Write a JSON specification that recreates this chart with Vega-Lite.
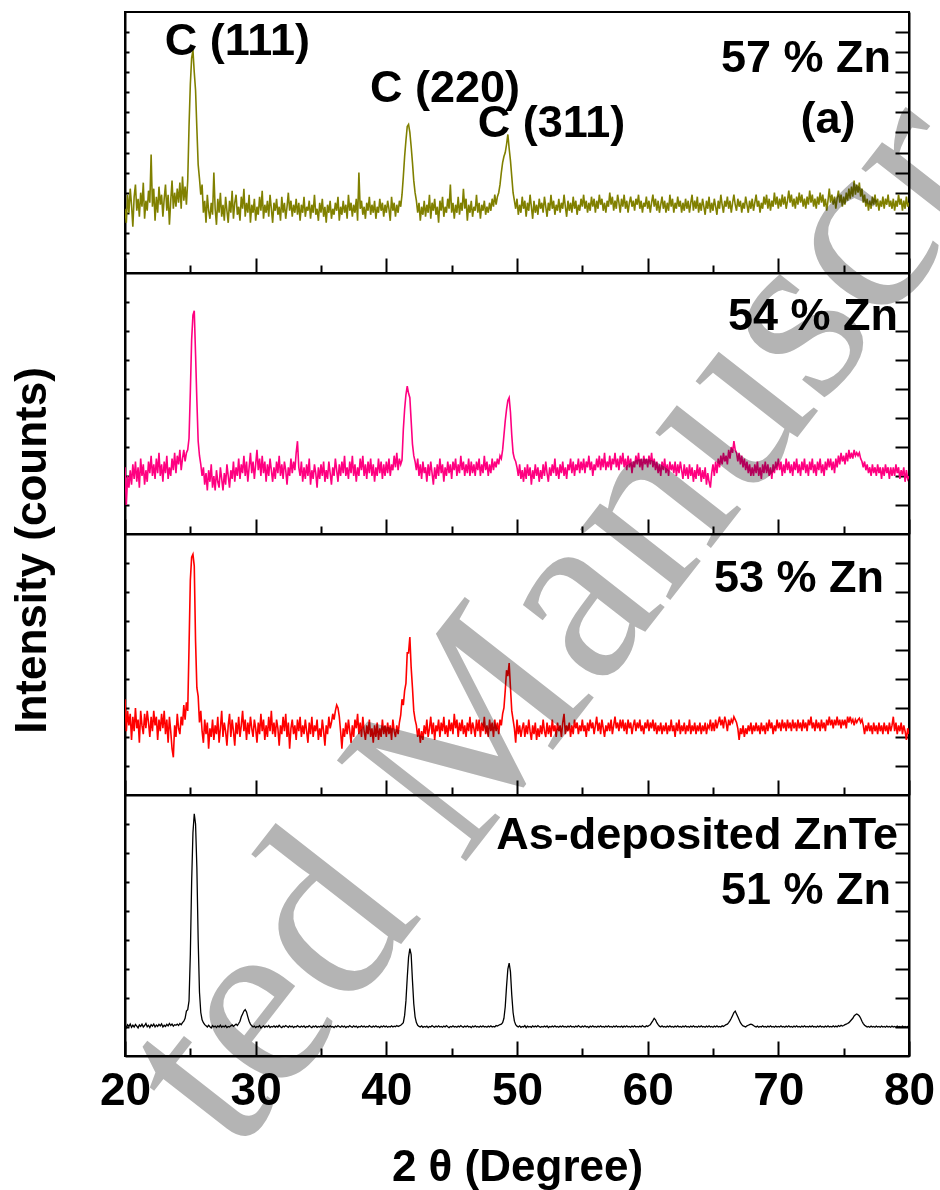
{
"$schema": "https://vega.github.io/schema/vega-lite/v6.json",
"background": "white",
"padding": {"left": 9, "top": 11, "right": 0, "bottom": 0},
"spacing": 0,
"bounds": "flush",
"config": {
  "view": {"stroke": "#000", "strokeWidth": 2},
  "axis": {"grid": false, "domainColor": "#000", "domainWidth": 2, "tickColor": "#000", "tickWidth": 2, "labelFont": "Liberation Sans", "labelFontWeight": "bold", "labelFontSize": 46, "labelColor": "#000", "titleFont": "Liberation Sans", "titleFontWeight": "bold", "titleFontSize": 44, "titleColor": "#000"},
  "text": {"font": "Liberation Sans", "fontWeight": "bold", "fontSize": 45, "color": "#000"},
  "concat": {"spacing": 0}
},
"data": {"values": [
{"x":20.0,"a":3.2,"b":2.3,"c":3.3,"d":1.05},{"x":20.1,"a":2.5,"b":1.0,"c":2.2,"d":0.98},{"x":20.2,"a":3.9,"b":2.0,"c":2.9,"d":1.08},{"x":20.3,"a":3.0,"b":1.6,"c":2.4,"d":1.02},{"x":20.4,"a":4.2,"b":2.2,"c":2.8,"d":1.1},{"x":20.5,"a":3.4,"b":1.7,"c":1.9,"d":0.99},{"x":20.6,"a":2.3,"b":2.4,"c":2.7,"d":1.06},{"x":20.7,"a":3.8,"b":1.9,"c":2.2,"d":1.0},{"x":20.8,"a":4.4,"b":2.5,"c":3.0,"d":1.09},{"x":20.9,"a":3.1,"b":1.8,"c":2.3,"d":1.03},
{"x":21.0,"a":3.7,"b":2.3,"c":2.6,"d":0.97},{"x":21.1,"a":2.8,"b":1.6,"c":1.8,"d":1.07},{"x":21.2,"a":4.0,"b":2.6,"c":2.9,"d":1.02},{"x":21.3,"a":3.3,"b":2.0,"c":2.4,"d":1.1},{"x":21.4,"a":4.5,"b":2.4,"c":2.1,"d":1.0},{"x":21.5,"a":2.7,"b":1.7,"c":2.8,"d":1.05},{"x":21.6,"a":3.6,"b":2.2,"c":2.3,"d":1.12},{"x":21.7,"a":3.1,"b":1.8,"c":2.9,"d":1.01},{"x":21.8,"a":4.1,"b":2.5,"c":2.5,"d":1.06},{"x":21.9,"a":3.5,"b":2.1,"c":2.0,"d":0.98},
{"x":22.0,"a":5.9,"b":2.7,"c":2.7,"d":1.08},{"x":22.1,"a":3.3,"b":2.0,"c":2.2,"d":1.03},{"x":22.2,"a":4.2,"b":2.4,"c":2.9,"d":1.1},{"x":22.3,"a":2.6,"b":1.9,"c":2.4,"d":1.0},{"x":22.4,"a":3.8,"b":2.6,"c":2.7,"d":1.07},{"x":22.5,"a":3.0,"b":2.1,"c":1.9,"d":1.02},{"x":22.6,"a":4.3,"b":2.8,"c":2.6,"d":1.09},{"x":22.7,"a":3.4,"b":2.0,"c":2.2,"d":1.04},{"x":22.8,"a":3.9,"b":2.4,"c":2.8,"d":1.11},{"x":22.9,"a":2.8,"b":1.8,"c":2.3,"d":1.0},
{"x":23.0,"a":3.7,"b":2.5,"c":2.9,"d":1.06},{"x":23.1,"a":4.4,"b":2.1,"c":2.1,"d":1.02},{"x":23.2,"a":3.1,"b":2.7,"c":2.6,"d":1.09},{"x":23.3,"a":3.9,"b":1.9,"c":1.8,"d":1.04},{"x":23.4,"a":2.4,"b":2.3,"c":2.7,"d":1.12},{"x":23.5,"a":3.6,"b":2.0,"c":2.2,"d":1.05},{"x":23.6,"a":4.6,"b":2.6,"c":1.6,"d":1.1},{"x":23.7,"a":3.2,"b":2.2,"c":1.3,"d":1.03},{"x":23.8,"a":4.0,"b":2.8,"c":2.4,"d":1.08},{"x":23.9,"a":3.3,"b":2.1,"c":2.0,"d":1.06},
{"x":24.0,"a":4.2,"b":2.7,"c":2.8,"d":1.1},{"x":24.1,"a":3.5,"b":2.4,"c":2.3,"d":1.05},{"x":24.2,"a":4.5,"b":2.9,"c":2.1,"d":1.12},{"x":24.3,"a":3.2,"b":2.2,"c":2.7,"d":1.08},{"x":24.4,"a":4.8,"b":2.6,"c":2.4,"d":1.15},{"x":24.5,"a":3.6,"b":2.9,"c":3.1,"d":1.2},{"x":24.6,"a":4.3,"b":2.5,"c":2.6,"d":1.3},{"x":24.7,"a":3.4,"b":2.8,"c":3.2,"d":1.55},{"x":24.8,"a":4.6,"b":2.9,"c":2.9,"d":1.6},{"x":24.9,"a":7.3,"b":3.3,"c":5.1,"d":1.9},
{"x":25.0,"a":9.4,"b":4.9,"c":7.4,"d":3.5},{"x":25.1,"a":10.7,"b":6.7,"c":8.2,"d":6.0},{"x":25.2,"a":11.1,"b":7.55,"c":8.3,"d":7.7},{"x":25.3,"a":10.0,"b":7.7,"c":7.9,"d":8.35},{"x":25.4,"a":9.1,"b":6.2,"c":5.3,"d":8.0},{"x":25.5,"a":7.2,"b":4.6,"c":3.7,"d":6.5},{"x":25.6,"a":5.4,"b":3.2,"c":3.4,"d":4.0},{"x":25.7,"a":4.7,"b":2.7,"c":2.5,"d":2.2},{"x":25.8,"a":3.9,"b":2.4,"c":2.9,"d":1.5},{"x":25.9,"a":4.4,"b":2.0,"c":2.2,"d":1.25},
{"x":26.0,"a":3.0,"b":2.3,"c":1.8,"d":1.15},{"x":26.1,"a":3.6,"b":1.7,"c":2.6,"d":1.08},{"x":26.2,"a":2.5,"b":2.1,"c":2.1,"d":1.04},{"x":26.3,"a":3.9,"b":1.5,"c":2.5,"d":1.0},{"x":26.4,"a":3.1,"b":2.2,"c":1.6,"d":1.06},{"x":26.5,"a":2.7,"b":1.8,"c":2.3,"d":1.01},{"x":26.6,"a":3.5,"b":2.4,"c":2.0,"d":0.97},{"x":26.7,"a":2.9,"b":1.6,"c":2.6,"d":1.05},{"x":26.8,"a":5.0,"b":2.0,"c":1.9,"d":1.0},{"x":26.9,"a":3.2,"b":1.5,"c":2.4,"d":1.03},
{"x":27.0,"a":2.4,"b":2.2,"c":2.1,"d":0.98},{"x":27.1,"a":3.7,"b":1.8,"c":2.7,"d":1.04},{"x":27.2,"a":3.0,"b":1.6,"c":1.8,"d":1.0},{"x":27.3,"a":4.0,"b":2.3,"c":2.3,"d":1.06},{"x":27.4,"a":2.8,"b":1.9,"c":2.9,"d":0.99},{"x":27.5,"a":3.4,"b":1.5,"c":2.0,"d":1.03},{"x":27.6,"a":2.6,"b":2.1,"c":2.5,"d":1.0},{"x":27.7,"a":3.8,"b":1.7,"c":2.2,"d":1.05},{"x":27.8,"a":3.1,"b":2.4,"c":1.7,"d":0.98},{"x":27.9,"a":2.5,"b":2.0,"c":2.4,"d":1.02},
{"x":28.0,"a":3.6,"b":1.6,"c":2.8,"d":1.0},{"x":28.1,"a":3.0,"b":2.2,"c":2.0,"d":1.04},{"x":28.2,"a":4.1,"b":1.9,"c":2.6,"d":1.07},{"x":28.3,"a":2.7,"b":2.5,"c":2.2,"d":1.02},{"x":28.4,"a":3.5,"b":1.8,"c":1.7,"d":1.06},{"x":28.5,"a":3.9,"b":2.3,"c":2.5,"d":1.1},{"x":28.6,"a":2.9,"b":2.0,"c":2.1,"d":1.05},{"x":28.7,"a":3.3,"b":2.6,"c":2.7,"d":1.12},{"x":28.8,"a":2.6,"b":1.9,"c":2.0,"d":1.2},{"x":28.9,"a":3.8,"b":2.4,"c":2.4,"d":1.35},
{"x":29.0,"a":3.2,"b":2.1,"c":2.9,"d":1.45},{"x":29.1,"a":4.2,"b":2.7,"c":2.2,"d":1.55},{"x":29.2,"a":2.8,"b":2.0,"c":2.6,"d":1.6},{"x":29.3,"a":3.5,"b":2.5,"c":1.9,"d":1.52},{"x":29.4,"a":3.0,"b":1.8,"c":2.5,"d":1.35},{"x":29.5,"a":3.9,"b":2.3,"c":2.1,"d":1.2},{"x":29.6,"a":2.5,"b":2.8,"c":2.7,"d":1.1},{"x":29.7,"a":3.4,"b":2.1,"c":2.3,"d":1.04},{"x":29.8,"a":3.0,"b":2.5,"c":2.0,"d":1.0},{"x":29.9,"a":3.7,"b":1.9,"c":2.6,"d":1.03},
{"x":30.0,"a":2.6,"b":2.4,"c":2.3,"d":0.98},{"x":30.1,"a":3.3,"b":2.9,"c":1.8,"d":1.02},{"x":30.2,"a":2.9,"b":2.2,"c":2.5,"d":1.0},{"x":30.3,"a":3.8,"b":2.6,"c":2.1,"d":1.05},{"x":30.4,"a":3.1,"b":2.0,"c":2.8,"d":0.97},{"x":30.5,"a":4.1,"b":2.7,"c":2.2,"d":1.01},{"x":30.6,"a":2.7,"b":2.1,"c":2.6,"d":1.04},{"x":30.7,"a":3.4,"b":2.5,"c":1.9,"d":0.99},{"x":30.8,"a":3.0,"b":1.8,"c":2.4,"d":1.03},{"x":30.9,"a":3.6,"b":2.4,"c":2.0,"d":1.0},
{"x":31.0,"a":2.8,"b":2.0,"c":2.7,"d":1.05},{"x":31.1,"a":3.9,"b":2.6,"c":2.2,"d":0.98},{"x":31.2,"a":3.2,"b":2.2,"c":2.9,"d":1.02},{"x":31.3,"a":2.5,"b":1.8,"c":2.1,"d":1.0},{"x":31.4,"a":3.5,"b":2.3,"c":2.5,"d":1.04},{"x":31.5,"a":3.1,"b":1.9,"c":2.0,"d":0.99},{"x":31.6,"a":3.7,"b":2.5,"c":2.6,"d":1.03},{"x":31.7,"a":2.9,"b":2.1,"c":2.3,"d":1.0},{"x":31.8,"a":3.3,"b":2.7,"c":1.7,"d":1.06},{"x":31.9,"a":2.6,"b":2.0,"c":2.4,"d":1.01},
{"x":32.0,"a":3.8,"b":2.4,"c":2.1,"d":0.98},{"x":32.1,"a":3.0,"b":1.9,"c":2.7,"d":1.03},{"x":32.2,"a":3.5,"b":2.5,"c":2.2,"d":1.0},{"x":32.3,"a":2.7,"b":2.2,"c":2.8,"d":1.05},{"x":32.4,"a":3.3,"b":1.7,"c":2.0,"d":1.02},{"x":32.5,"a":4.0,"b":2.3,"c":2.5,"d":0.99},{"x":32.6,"a":3.1,"b":2.0,"c":1.6,"d":1.04},{"x":32.7,"a":3.6,"b":2.6,"c":2.3,"d":1.0},{"x":32.8,"a":2.8,"b":2.1,"c":2.6,"d":1.03},{"x":32.9,"a":3.4,"b":2.5,"c":2.1,"d":0.98},
{"x":33.0,"a":3.0,"b":2.2,"c":2.4,"d":1.02},{"x":33.1,"a":3.7,"b":2.8,"c":1.9,"d":1.0},{"x":33.2,"a":2.9,"b":3.2,"c":2.6,"d":1.05},{"x":33.3,"a":3.5,"b":2.3,"c":2.2,"d":1.01},{"x":33.4,"a":2.6,"b":2.0,"c":2.7,"d":0.99},{"x":33.5,"a":3.4,"b":2.5,"c":2.0,"d":1.03},{"x":33.6,"a":3.0,"b":1.8,"c":2.4,"d":1.0},{"x":33.7,"a":3.8,"b":2.3,"c":2.1,"d":1.04},{"x":33.8,"a":2.8,"b":1.9,"c":2.6,"d":0.98},{"x":33.9,"a":3.3,"b":2.4,"c":2.2,"d":1.02},
{"x":34.0,"a":3.1,"b":2.0,"c":1.8,"d":1.0},{"x":34.1,"a":3.6,"b":2.6,"c":2.5,"d":1.05},{"x":34.2,"a":2.7,"b":1.7,"c":2.1,"d":1.01},{"x":34.3,"a":3.4,"b":2.2,"c":2.7,"d":0.98},{"x":34.4,"a":3.0,"b":1.9,"c":2.0,"d":1.03},{"x":34.5,"a":3.9,"b":2.4,"c":2.4,"d":1.0},{"x":34.6,"a":2.9,"b":2.1,"c":2.2,"d":1.04},{"x":34.7,"a":3.2,"b":1.6,"c":2.6,"d":0.99},{"x":34.8,"a":2.6,"b":2.3,"c":1.9,"d":1.02},{"x":34.9,"a":3.5,"b":1.9,"c":2.3,"d":1.0},
{"x":35.0,"a":3.0,"b":2.4,"c":2.0,"d":1.03},{"x":35.1,"a":3.7,"b":2.0,"c":2.6,"d":1.0},{"x":35.2,"a":2.8,"b":2.5,"c":2.2,"d":1.05},{"x":35.3,"a":3.3,"b":1.8,"c":1.7,"d":1.01},{"x":35.4,"a":2.5,"b":2.2,"c":2.4,"d":0.99},{"x":35.5,"a":3.4,"b":1.9,"c":2.1,"d":1.03},{"x":35.6,"a":3.0,"b":2.5,"c":2.7,"d":1.0},{"x":35.7,"a":3.6,"b":2.1,"c":2.3,"d":1.04},{"x":35.8,"a":2.7,"b":1.7,"c":2.5,"d":1.0},{"x":35.9,"a":3.2,"b":2.3,"c":2.8,"d":1.02},
{"x":36.0,"a":2.9,"b":2.0,"c":2.6,"d":0.98},{"x":36.1,"a":3.5,"b":2.6,"c":2.9,"d":1.03},{"x":36.2,"a":3.1,"b":2.2,"c":3.1,"d":1.0},{"x":36.3,"a":3.8,"b":1.8,"c":3.0,"d":1.05},{"x":36.4,"a":2.6,"b":2.4,"c":2.7,"d":1.01},{"x":36.5,"a":3.3,"b":2.0,"c":2.2,"d":0.99},{"x":36.6,"a":2.9,"b":2.5,"c":1.6,"d":1.04},{"x":36.7,"a":3.6,"b":2.1,"c":2.3,"d":1.0},{"x":36.8,"a":3.0,"b":2.7,"c":2.0,"d":1.03},{"x":36.9,"a":3.4,"b":2.0,"c":2.5,"d":0.98},
{"x":37.0,"a":2.7,"b":2.3,"c":2.1,"d":1.02},{"x":37.1,"a":3.9,"b":1.9,"c":2.6,"d":1.0},{"x":37.2,"a":3.1,"b":2.5,"c":2.2,"d":1.05},{"x":37.3,"a":3.5,"b":2.1,"c":1.8,"d":1.01},{"x":37.4,"a":2.8,"b":2.7,"c":2.4,"d":0.99},{"x":37.5,"a":3.4,"b":2.0,"c":2.0,"d":1.04},{"x":37.6,"a":3.0,"b":2.4,"c":2.6,"d":1.0},{"x":37.7,"a":3.7,"b":1.8,"c":2.3,"d":1.03},{"x":37.8,"a":2.6,"b":2.3,"c":2.8,"d":0.98},{"x":37.9,"a":5.0,"b":2.0,"c":2.1,"d":1.02},
{"x":38.0,"a":3.2,"b":2.6,"c":2.5,"d":1.0},{"x":38.1,"a":3.6,"b":2.2,"c":2.0,"d":1.04},{"x":38.2,"a":2.9,"b":2.7,"c":2.7,"d":1.0},{"x":38.3,"a":3.3,"b":2.0,"c":2.2,"d":1.03},{"x":38.4,"a":2.7,"b":2.4,"c":1.9,"d":0.99},{"x":38.5,"a":3.5,"b":1.9,"c":2.4,"d":1.02},{"x":38.6,"a":3.1,"b":2.5,"c":2.1,"d":1.0},{"x":38.7,"a":3.8,"b":2.1,"c":2.6,"d":1.05},{"x":38.8,"a":2.9,"b":2.6,"c":2.0,"d":1.01},{"x":38.9,"a":3.4,"b":2.0,"c":2.3,"d":0.99},
{"x":39.0,"a":3.0,"b":2.4,"c":1.8,"d":1.03},{"x":39.1,"a":3.6,"b":1.8,"c":2.4,"d":1.0},{"x":39.2,"a":2.7,"b":2.3,"c":2.0,"d":1.04},{"x":39.3,"a":3.3,"b":2.0,"c":2.5,"d":1.0},{"x":39.4,"a":3.0,"b":2.6,"c":1.9,"d":1.02},{"x":39.5,"a":3.7,"b":2.1,"c":2.3,"d":0.98},{"x":39.6,"a":3.1,"b":2.5,"c":2.0,"d":1.03},{"x":39.7,"a":3.5,"b":1.9,"c":2.6,"d":1.0},{"x":39.8,"a":2.8,"b":2.4,"c":2.1,"d":1.04},{"x":39.9,"a":3.4,"b":2.0,"c":2.4,"d":1.0},
{"x":40.0,"a":3.0,"b":2.5,"c":2.0,"d":1.03},{"x":40.1,"a":3.6,"b":2.1,"c":2.5,"d":0.99},{"x":40.2,"a":3.2,"b":2.6,"c":2.1,"d":1.02},{"x":40.3,"a":2.6,"b":2.0,"c":2.4,"d":1.0},{"x":40.4,"a":3.8,"b":2.4,"c":1.9,"d":1.04},{"x":40.5,"a":3.1,"b":2.2,"c":2.6,"d":1.0},{"x":40.6,"a":3.5,"b":2.7,"c":2.2,"d":1.03},{"x":40.7,"a":2.8,"b":2.3,"c":2.0,"d":1.01},{"x":40.8,"a":3.4,"b":2.8,"c":2.4,"d":1.05},{"x":40.9,"a":3.0,"b":2.2,"c":2.1,"d":1.02},
{"x":41.0,"a":3.6,"b":2.6,"c":2.5,"d":1.04},{"x":41.1,"a":3.3,"b":2.4,"c":2.75,"d":1.06},{"x":41.2,"a":3.9,"b":2.55,"c":3.3,"d":1.1},{"x":41.3,"a":4.8,"b":3.6,"c":3.1,"d":1.15},{"x":41.4,"a":5.8,"b":4.3,"c":3.6,"d":1.4},{"x":41.5,"a":6.6,"b":4.8,"c":3.85,"d":1.9},{"x":41.6,"a":7.3,"b":5.1,"c":4.9,"d":2.7},{"x":41.7,"a":7.4,"b":4.85,"c":4.9,"d":3.4},{"x":41.8,"a":7.0,"b":4.7,"c":5.45,"d":3.7},{"x":41.9,"a":6.3,"b":3.9,"c":4.4,"d":3.5},
{"x":42.0,"a":5.5,"b":3.1,"c":3.7,"d":2.6},{"x":42.1,"a":4.6,"b":2.7,"c":2.9,"d":1.8},{"x":42.2,"a":4.0,"b":2.5,"c":2.6,"d":1.35},{"x":42.3,"a":3.6,"b":2.2,"c":2.4,"d":1.15},{"x":42.4,"a":3.0,"b":2.6,"c":2.0,"d":1.06},{"x":42.5,"a":3.5,"b":2.0,"c":2.3,"d":1.02},{"x":42.6,"a":2.6,"b":2.4,"c":1.8,"d":1.0},{"x":42.7,"a":3.3,"b":1.9,"c":2.2,"d":1.04},{"x":42.8,"a":2.9,"b":2.5,"c":1.9,"d":0.99},{"x":42.9,"a":3.6,"b":2.1,"c":2.4,"d":1.02},
{"x":43.0,"a":2.8,"b":2.3,"c":2.1,"d":1.0},{"x":43.1,"a":3.4,"b":1.8,"c":2.6,"d":1.03},{"x":43.2,"a":3.0,"b":2.4,"c":2.0,"d":0.98},{"x":43.3,"a":3.9,"b":2.0,"c":2.3,"d":1.02},{"x":43.4,"a":2.7,"b":2.5,"c":2.7,"d":1.0},{"x":43.5,"a":3.5,"b":2.1,"c":2.1,"d":1.05},{"x":43.6,"a":3.1,"b":1.7,"c":2.5,"d":1.01},{"x":43.7,"a":3.7,"b":2.3,"c":1.9,"d":0.99},{"x":43.8,"a":2.9,"b":1.9,"c":2.4,"d":1.03},{"x":43.9,"a":3.3,"b":2.4,"c":2.2,"d":1.0},
{"x":44.0,"a":2.5,"b":2.0,"c":2.6,"d":1.04},{"x":44.1,"a":3.6,"b":2.6,"c":2.0,"d":1.0},{"x":44.2,"a":3.1,"b":2.1,"c":2.5,"d":1.02},{"x":44.3,"a":3.8,"b":2.4,"c":2.2,"d":0.99},{"x":44.4,"a":2.8,"b":1.8,"c":2.7,"d":1.03},{"x":44.5,"a":3.3,"b":2.3,"c":2.1,"d":1.0},{"x":44.6,"a":3.0,"b":2.0,"c":2.4,"d":1.05},{"x":44.7,"a":3.7,"b":2.5,"c":2.0,"d":1.01},{"x":44.8,"a":3.2,"b":2.1,"c":2.6,"d":0.98},{"x":44.9,"a":4.4,"b":2.4,"c":2.2,"d":1.02},
{"x":45.0,"a":3.0,"b":1.9,"c":2.5,"d":1.0},{"x":45.1,"a":3.5,"b":2.5,"c":2.1,"d":1.04},{"x":45.2,"a":2.7,"b":2.2,"c":2.8,"d":1.0},{"x":45.3,"a":3.4,"b":2.6,"c":2.3,"d":1.02},{"x":45.4,"a":3.0,"b":2.0,"c":2.6,"d":0.99},{"x":45.5,"a":3.8,"b":2.4,"c":2.0,"d":1.03},{"x":45.6,"a":2.9,"b":2.1,"c":2.5,"d":1.0},{"x":45.7,"a":3.5,"b":2.7,"c":2.2,"d":1.05},{"x":45.8,"a":3.1,"b":2.2,"c":2.6,"d":1.01},{"x":45.9,"a":4.2,"b":2.5,"c":2.1,"d":0.99},
{"x":46.0,"a":3.2,"b":2.0,"c":2.4,"d":1.03},{"x":46.1,"a":3.7,"b":2.4,"c":2.0,"d":1.0},{"x":46.2,"a":2.6,"b":2.1,"c":2.5,"d":1.04},{"x":46.3,"a":3.4,"b":2.6,"c":2.2,"d":1.0},{"x":46.4,"a":3.0,"b":2.0,"c":2.7,"d":1.02},{"x":46.5,"a":3.6,"b":2.5,"c":2.1,"d":0.98},{"x":46.6,"a":2.8,"b":2.1,"c":2.5,"d":1.03},{"x":46.7,"a":3.3,"b":2.4,"c":2.3,"d":1.0},{"x":46.8,"a":3.1,"b":2.0,"c":2.0,"d":1.04},{"x":46.9,"a":3.9,"b":2.5,"c":2.6,"d":1.0},
{"x":47.0,"a":3.0,"b":2.2,"c":2.2,"d":1.02},{"x":47.1,"a":3.5,"b":2.6,"c":2.6,"d":0.99},{"x":47.2,"a":2.7,"b":2.0,"c":2.0,"d":1.03},{"x":47.3,"a":3.4,"b":2.4,"c":2.5,"d":1.0},{"x":47.4,"a":3.1,"b":2.1,"c":2.2,"d":1.04},{"x":47.5,"a":3.6,"b":2.7,"c":2.7,"d":1.0},{"x":47.6,"a":2.9,"b":2.2,"c":2.1,"d":1.02},{"x":47.7,"a":3.3,"b":2.5,"c":2.4,"d":0.99},{"x":47.8,"a":3.0,"b":2.0,"c":2.0,"d":1.03},{"x":47.9,"a":3.5,"b":2.4,"c":2.6,"d":1.0},
{"x":48.0,"a":3.1,"b":2.1,"c":2.2,"d":1.04},{"x":48.1,"a":3.7,"b":2.6,"c":2.5,"d":1.0},{"x":48.2,"a":3.3,"b":2.2,"c":2.0,"d":1.02},{"x":48.3,"a":3.9,"b":2.5,"c":2.6,"d":1.0},{"x":48.4,"a":3.4,"b":2.3,"c":2.2,"d":1.05},{"x":48.5,"a":3.8,"b":2.6,"c":2.5,"d":1.03},{"x":48.6,"a":4.0,"b":2.4,"c":2.1,"d":1.06},{"x":48.7,"a":4.4,"b":2.7,"c":2.6,"d":1.08},{"x":48.8,"a":5.0,"b":2.6,"c":2.4,"d":1.1},{"x":48.9,"a":5.5,"b":2.9,"c":2.8,"d":1.15},
{"x":49.0,"a":5.8,"b":3.4,"c":3.0,"d":1.3},{"x":49.1,"a":6.0,"b":3.9,"c":3.6,"d":1.7},{"x":49.2,"a":6.4,"b":4.3,"c":4.3,"d":2.4},{"x":49.3,"a":6.9,"b":4.6,"c":4.1,"d":3.0},{"x":49.4,"a":6.2,"b":4.7,"c":4.55,"d":3.2},{"x":49.5,"a":5.6,"b":4.2,"c":3.7,"d":2.9},{"x":49.6,"a":4.8,"b":3.4,"c":2.9,"d":2.1},{"x":49.7,"a":4.0,"b":2.8,"c":2.6,"d":1.5},{"x":49.8,"a":3.6,"b":2.6,"c":2.3,"d":1.2},{"x":49.9,"a":3.2,"b":2.5,"c":1.8,"d":1.08},
{"x":50.0,"a":3.7,"b":2.3,"c":2.6,"d":1.03},{"x":50.1,"a":2.9,"b":2.0,"c":2.1,"d":1.0},{"x":50.2,"a":3.4,"b":2.4,"c":2.4,"d":1.04},{"x":50.3,"a":3.0,"b":1.9,"c":2.0,"d":0.99},{"x":50.4,"a":3.8,"b":2.2,"c":2.3,"d":1.02},{"x":50.5,"a":3.2,"b":1.8,"c":2.5,"d":1.0},{"x":50.6,"a":3.6,"b":2.3,"c":2.0,"d":1.05},{"x":50.7,"a":2.8,"b":1.9,"c":2.4,"d":0.98},{"x":50.8,"a":3.5,"b":2.4,"c":2.1,"d":1.03},{"x":50.9,"a":3.1,"b":2.0,"c":2.6,"d":1.0},
{"x":51.0,"a":3.9,"b":2.3,"c":2.2,"d":1.02},{"x":51.1,"a":3.3,"b":1.7,"c":1.9,"d":0.99},{"x":51.2,"a":2.7,"b":2.2,"c":2.4,"d":1.04},{"x":51.3,"a":3.6,"b":1.9,"c":2.1,"d":1.0},{"x":51.4,"a":3.0,"b":2.4,"c":2.5,"d":1.03},{"x":51.5,"a":3.4,"b":2.0,"c":1.9,"d":1.0},{"x":51.6,"a":2.9,"b":2.3,"c":2.3,"d":1.05},{"x":51.7,"a":3.7,"b":1.8,"c":2.0,"d":1.01},{"x":51.8,"a":3.2,"b":2.2,"c":2.4,"d":0.99},{"x":51.9,"a":3.5,"b":1.9,"c":2.1,"d":1.02},
{"x":52.0,"a":3.0,"b":2.4,"c":2.6,"d":1.0},{"x":52.1,"a":3.8,"b":2.0,"c":2.2,"d":1.03},{"x":52.2,"a":3.3,"b":2.5,"c":2.0,"d":1.0},{"x":52.3,"a":2.8,"b":2.1,"c":2.5,"d":1.04},{"x":52.4,"a":3.5,"b":1.8,"c":2.1,"d":0.98},{"x":52.5,"a":3.1,"b":2.3,"c":2.4,"d":1.02},{"x":52.6,"a":3.9,"b":2.0,"c":2.0,"d":1.0},{"x":52.7,"a":3.2,"b":2.4,"c":2.6,"d":1.03},{"x":52.8,"a":3.6,"b":2.1,"c":2.2,"d":1.0},{"x":52.9,"a":2.9,"b":2.6,"c":2.4,"d":1.04},
{"x":53.0,"a":3.4,"b":2.0,"c":2.0,"d":1.0},{"x":53.1,"a":3.1,"b":2.3,"c":2.5,"d":1.02},{"x":53.2,"a":3.7,"b":1.9,"c":2.2,"d":0.99},{"x":53.3,"a":3.0,"b":2.4,"c":2.4,"d":1.03},{"x":53.4,"a":3.5,"b":2.1,"c":2.0,"d":1.0},{"x":53.5,"a":3.2,"b":2.5,"c":2.5,"d":1.04},{"x":53.6,"a":3.9,"b":2.0,"c":2.8,"d":1.0},{"x":53.7,"a":3.3,"b":2.3,"c":2.1,"d":1.02},{"x":53.8,"a":2.8,"b":1.9,"c":2.4,"d":0.99},{"x":53.9,"a":3.6,"b":2.4,"c":2.2,"d":1.03},
{"x":54.0,"a":3.1,"b":2.2,"c":2.5,"d":1.0},{"x":54.1,"a":3.5,"b":2.6,"c":2.0,"d":1.04},{"x":54.2,"a":3.0,"b":2.1,"c":2.4,"d":1.0},{"x":54.3,"a":3.8,"b":2.5,"c":2.1,"d":1.02},{"x":54.4,"a":3.2,"b":2.0,"c":2.6,"d":0.99},{"x":54.5,"a":3.6,"b":2.4,"c":2.3,"d":1.03},{"x":54.6,"a":2.9,"b":2.2,"c":2.5,"d":1.0},{"x":54.7,"a":3.4,"b":2.6,"c":2.1,"d":1.05},{"x":54.8,"a":3.1,"b":2.1,"c":2.4,"d":1.01},{"x":54.9,"a":3.7,"b":2.5,"c":2.2,"d":0.99},
{"x":55.0,"a":3.3,"b":2.2,"c":2.6,"d":1.03},{"x":55.1,"a":3.9,"b":2.6,"c":2.2,"d":1.0},{"x":55.2,"a":3.2,"b":2.1,"c":2.4,"d":1.04},{"x":55.3,"a":3.6,"b":2.5,"c":2.0,"d":1.0},{"x":55.4,"a":3.0,"b":2.3,"c":2.5,"d":1.02},{"x":55.5,"a":3.5,"b":2.7,"c":2.2,"d":0.98},{"x":55.6,"a":3.1,"b":2.2,"c":2.6,"d":1.03},{"x":55.7,"a":3.8,"b":2.5,"c":2.3,"d":1.0},{"x":55.8,"a":3.3,"b":2.0,"c":2.5,"d":1.04},{"x":55.9,"a":3.7,"b":2.4,"c":2.1,"d":1.0},
{"x":56.0,"a":3.0,"b":2.2,"c":2.4,"d":1.02},{"x":56.1,"a":3.6,"b":2.6,"c":2.7,"d":0.99},{"x":56.2,"a":3.2,"b":2.3,"c":2.2,"d":1.03},{"x":56.3,"a":3.9,"b":2.7,"c":2.5,"d":1.0},{"x":56.4,"a":3.4,"b":2.2,"c":2.1,"d":1.04},{"x":56.5,"a":3.7,"b":2.6,"c":2.6,"d":1.0},{"x":56.6,"a":3.1,"b":2.3,"c":2.3,"d":1.02},{"x":56.7,"a":3.5,"b":2.8,"c":2.0,"d":0.99},{"x":56.8,"a":3.0,"b":2.2,"c":2.4,"d":1.03},{"x":56.9,"a":3.6,"b":2.5,"c":2.2,"d":1.0},
{"x":57.0,"a":3.3,"b":2.3,"c":2.5,"d":1.04},{"x":57.1,"a":4.0,"b":2.7,"c":2.2,"d":1.0},{"x":57.2,"a":3.4,"b":2.2,"c":2.6,"d":1.02},{"x":57.3,"a":3.8,"b":2.6,"c":2.1,"d":0.99},{"x":57.4,"a":3.1,"b":2.4,"c":2.4,"d":1.03},{"x":57.5,"a":3.6,"b":2.8,"c":2.7,"d":1.0},{"x":57.6,"a":3.2,"b":2.3,"c":2.3,"d":1.04},{"x":57.7,"a":3.9,"b":2.6,"c":2.5,"d":1.0},{"x":57.8,"a":3.5,"b":2.2,"c":2.2,"d":1.02},{"x":57.9,"a":3.0,"b":2.7,"c":2.6,"d":1.0},
{"x":58.0,"a":3.7,"b":2.4,"c":2.3,"d":1.03},{"x":58.1,"a":3.3,"b":2.8,"c":2.6,"d":0.99},{"x":58.2,"a":3.9,"b":2.3,"c":2.2,"d":1.03},{"x":58.3,"a":3.2,"b":2.6,"c":2.5,"d":1.0},{"x":58.4,"a":3.6,"b":2.2,"c":2.1,"d":1.04},{"x":58.5,"a":3.0,"b":2.7,"c":2.6,"d":1.0},{"x":58.6,"a":3.5,"b":2.3,"c":2.3,"d":1.02},{"x":58.7,"a":3.8,"b":2.6,"c":2.5,"d":0.99},{"x":58.8,"a":3.3,"b":2.1,"c":2.1,"d":1.03},{"x":58.9,"a":3.6,"b":2.5,"c":2.4,"d":1.0},
{"x":59.0,"a":3.1,"b":2.3,"c":2.6,"d":1.04},{"x":59.1,"a":3.7,"b":2.7,"c":2.2,"d":1.0},{"x":59.2,"a":3.4,"b":2.4,"c":2.5,"d":1.02},{"x":59.3,"a":3.9,"b":2.8,"c":2.3,"d":1.0},{"x":59.4,"a":3.2,"b":2.3,"c":2.6,"d":1.03},{"x":59.5,"a":3.6,"b":2.6,"c":2.2,"d":1.0},{"x":59.6,"a":3.0,"b":2.2,"c":2.4,"d":1.05},{"x":59.7,"a":3.5,"b":2.7,"c":2.1,"d":1.01},{"x":59.8,"a":3.3,"b":2.4,"c":2.5,"d":1.0},{"x":59.9,"a":3.8,"b":2.6,"c":2.3,"d":1.04},
{"x":60.0,"a":3.2,"b":2.3,"c":2.6,"d":1.02},{"x":60.1,"a":3.6,"b":2.7,"c":2.2,"d":1.05},{"x":60.2,"a":3.0,"b":2.4,"c":2.5,"d":1.08},{"x":60.3,"a":3.5,"b":2.8,"c":2.3,"d":1.15},{"x":60.4,"a":3.9,"b":2.3,"c":2.6,"d":1.22},{"x":60.5,"a":3.3,"b":2.6,"c":2.2,"d":1.3},{"x":60.6,"a":3.7,"b":2.2,"c":2.5,"d":1.25},{"x":60.7,"a":3.1,"b":2.5,"c":2.1,"d":1.15},{"x":60.8,"a":3.6,"b":2.1,"c":2.4,"d":1.08},{"x":60.9,"a":3.0,"b":2.4,"c":2.2,"d":1.03},
{"x":61.0,"a":3.4,"b":2.0,"c":2.5,"d":1.0},{"x":61.1,"a":3.8,"b":2.5,"c":2.1,"d":1.04},{"x":61.2,"a":3.2,"b":2.2,"c":2.4,"d":1.0},{"x":61.3,"a":3.6,"b":2.6,"c":2.2,"d":1.02},{"x":61.4,"a":3.0,"b":2.1,"c":2.5,"d":0.99},{"x":61.5,"a":3.5,"b":2.4,"c":2.1,"d":1.03},{"x":61.6,"a":3.1,"b":2.0,"c":2.4,"d":1.0},{"x":61.7,"a":3.9,"b":2.5,"c":2.2,"d":1.04},{"x":61.8,"a":3.3,"b":2.2,"c":2.6,"d":1.0},{"x":61.9,"a":3.7,"b":2.4,"c":2.2,"d":1.02},
{"x":62.0,"a":3.0,"b":2.1,"c":2.4,"d":0.99},{"x":62.1,"a":3.5,"b":2.5,"c":2.0,"d":1.03},{"x":62.2,"a":3.2,"b":2.0,"c":2.5,"d":1.0},{"x":62.3,"a":3.8,"b":2.4,"c":2.2,"d":1.04},{"x":62.4,"a":3.3,"b":2.1,"c":2.6,"d":1.0},{"x":62.5,"a":3.6,"b":2.5,"c":2.1,"d":1.02},{"x":62.6,"a":3.0,"b":2.2,"c":2.4,"d":0.99},{"x":62.7,"a":3.5,"b":1.9,"c":2.2,"d":1.03},{"x":62.8,"a":3.1,"b":2.4,"c":2.5,"d":1.0},{"x":62.9,"a":3.7,"b":2.0,"c":2.1,"d":1.04},
{"x":63.0,"a":3.2,"b":2.3,"c":2.4,"d":1.0},{"x":63.1,"a":3.6,"b":1.9,"c":2.2,"d":1.02},{"x":63.2,"a":3.0,"b":2.4,"c":2.6,"d":0.99},{"x":63.3,"a":3.5,"b":2.0,"c":2.1,"d":1.03},{"x":63.4,"a":3.9,"b":2.3,"c":2.4,"d":1.0},{"x":63.5,"a":3.1,"b":1.8,"c":2.2,"d":1.04},{"x":63.6,"a":3.6,"b":2.2,"c":2.5,"d":1.0},{"x":63.7,"a":3.2,"b":1.9,"c":2.1,"d":1.02},{"x":63.8,"a":3.8,"b":2.4,"c":2.4,"d":0.99},{"x":63.9,"a":3.0,"b":2.0,"c":2.2,"d":1.03},
{"x":64.0,"a":3.5,"b":2.3,"c":2.5,"d":1.0},{"x":64.1,"a":3.1,"b":1.8,"c":2.1,"d":1.04},{"x":64.2,"a":3.7,"b":2.2,"c":2.4,"d":1.0},{"x":64.3,"a":3.3,"b":1.9,"c":2.2,"d":1.02},{"x":64.4,"a":2.9,"b":2.3,"c":2.5,"d":0.99},{"x":64.5,"a":3.6,"b":1.7,"c":2.1,"d":1.03},{"x":64.6,"a":3.2,"b":2.1,"c":2.4,"d":1.0},{"x":64.7,"a":3.8,"b":1.8,"c":2.3,"d":1.04},{"x":64.8,"a":3.0,"b":1.6,"c":2.6,"d":1.0},{"x":64.9,"a":3.5,"b":2.1,"c":2.2,"d":1.02},
{"x":65.0,"a":3.1,"b":2.4,"c":2.5,"d":0.99},{"x":65.1,"a":3.7,"b":2.0,"c":2.2,"d":1.03},{"x":65.2,"a":3.3,"b":2.5,"c":2.6,"d":1.0},{"x":65.3,"a":2.9,"b":2.1,"c":2.3,"d":1.04},{"x":65.4,"a":3.6,"b":2.6,"c":2.5,"d":1.0},{"x":65.5,"a":3.2,"b":2.3,"c":2.7,"d":1.02},{"x":65.6,"a":3.9,"b":2.7,"c":2.4,"d":1.0},{"x":65.7,"a":3.4,"b":2.4,"c":2.6,"d":1.04},{"x":65.8,"a":3.0,"b":2.8,"c":2.3,"d":1.02},{"x":65.9,"a":3.6,"b":2.5,"c":2.7,"d":1.05},
{"x":66.0,"a":3.3,"b":2.7,"c":2.5,"d":1.08},{"x":66.1,"a":3.8,"b":2.4,"c":2.2,"d":1.1},{"x":66.2,"a":3.2,"b":2.9,"c":2.6,"d":1.15},{"x":66.3,"a":3.6,"b":2.6,"c":2.4,"d":1.22},{"x":66.4,"a":3.0,"b":3.0,"c":2.6,"d":1.3},{"x":66.5,"a":3.5,"b":2.8,"c":2.5,"d":1.4},{"x":66.6,"a":3.9,"b":3.2,"c":2.7,"d":1.5},{"x":66.7,"a":3.4,"b":2.9,"c":2.6,"d":1.55},{"x":66.8,"a":3.1,"b":2.8,"c":2.5,"d":1.45},{"x":66.9,"a":3.7,"b":2.5,"c":2.3,"d":1.35},
{"x":67.0,"a":3.3,"b":2.8,"c":1.9,"d":1.25},{"x":67.1,"a":3.6,"b":2.4,"c":2.3,"d":1.15},{"x":67.2,"a":3.0,"b":2.7,"c":2.1,"d":1.08},{"x":67.3,"a":3.5,"b":2.3,"c":2.4,"d":1.04},{"x":67.4,"a":3.2,"b":2.6,"c":2.0,"d":1.02},{"x":67.5,"a":3.8,"b":2.2,"c":2.3,"d":1.0},{"x":67.6,"a":3.4,"b":2.5,"c":2.1,"d":1.04},{"x":67.7,"a":3.0,"b":2.1,"c":2.4,"d":1.06},{"x":67.8,"a":3.6,"b":2.4,"c":2.2,"d":1.08},{"x":67.9,"a":3.2,"b":2.0,"c":2.5,"d":1.1},
{"x":68.0,"a":3.7,"b":2.3,"c":2.1,"d":1.08},{"x":68.1,"a":3.1,"b":2.0,"c":2.4,"d":1.05},{"x":68.2,"a":3.5,"b":2.4,"c":2.2,"d":1.02},{"x":68.3,"a":3.9,"b":2.1,"c":2.5,"d":1.0},{"x":68.4,"a":3.3,"b":2.5,"c":2.2,"d":1.03},{"x":68.5,"a":3.6,"b":2.0,"c":2.4,"d":0.99},{"x":68.6,"a":3.0,"b":2.3,"c":2.1,"d":1.02},{"x":68.7,"a":3.5,"b":1.9,"c":2.5,"d":1.0},{"x":68.8,"a":3.2,"b":2.4,"c":2.2,"d":1.04},{"x":68.9,"a":3.8,"b":2.1,"c":2.4,"d":1.0},
{"x":69.0,"a":3.4,"b":2.5,"c":2.1,"d":1.02},{"x":69.1,"a":3.9,"b":2.1,"c":2.5,"d":0.99},{"x":69.2,"a":3.2,"b":2.4,"c":2.2,"d":1.03},{"x":69.3,"a":3.7,"b":2.0,"c":2.6,"d":1.0},{"x":69.4,"a":3.1,"b":2.3,"c":2.3,"d":1.04},{"x":69.5,"a":3.6,"b":1.9,"c":2.5,"d":1.0},{"x":69.6,"a":3.3,"b":2.4,"c":2.1,"d":1.02},{"x":69.7,"a":4.0,"b":2.1,"c":2.4,"d":0.99},{"x":69.8,"a":3.4,"b":2.5,"c":2.2,"d":1.03},{"x":69.9,"a":3.8,"b":2.2,"c":2.6,"d":1.0},
{"x":70.0,"a":3.2,"b":2.6,"c":2.3,"d":1.02},{"x":70.1,"a":3.7,"b":2.2,"c":2.5,"d":1.0},{"x":70.2,"a":3.3,"b":2.5,"c":2.2,"d":1.04},{"x":70.3,"a":3.9,"b":2.0,"c":2.6,"d":1.0},{"x":70.4,"a":3.4,"b":2.4,"c":2.3,"d":1.02},{"x":70.5,"a":3.8,"b":2.1,"c":2.5,"d":0.99},{"x":70.6,"a":3.2,"b":2.6,"c":2.2,"d":1.03},{"x":70.7,"a":3.6,"b":2.2,"c":2.6,"d":1.0},{"x":70.8,"a":4.1,"b":2.5,"c":2.3,"d":1.04},{"x":70.9,"a":3.5,"b":2.1,"c":2.5,"d":1.0},
{"x":71.0,"a":3.9,"b":2.4,"c":2.2,"d":1.02},{"x":71.1,"a":3.3,"b":2.0,"c":2.6,"d":0.99},{"x":71.2,"a":3.7,"b":2.5,"c":2.3,"d":1.03},{"x":71.3,"a":3.2,"b":2.2,"c":2.5,"d":1.0},{"x":71.4,"a":3.8,"b":2.6,"c":2.2,"d":1.04},{"x":71.5,"a":3.4,"b":2.1,"c":2.6,"d":1.0},{"x":71.6,"a":4.0,"b":2.4,"c":2.3,"d":1.02},{"x":71.7,"a":3.5,"b":2.0,"c":2.5,"d":0.99},{"x":71.8,"a":3.9,"b":2.5,"c":2.2,"d":1.03},{"x":71.9,"a":3.3,"b":2.2,"c":2.6,"d":1.0},
{"x":72.0,"a":3.7,"b":2.6,"c":2.3,"d":1.04},{"x":72.1,"a":3.2,"b":2.1,"c":2.5,"d":1.0},{"x":72.2,"a":3.8,"b":2.4,"c":2.2,"d":1.02},{"x":72.3,"a":3.4,"b":2.0,"c":2.6,"d":1.0},{"x":72.4,"a":4.1,"b":2.5,"c":2.4,"d":1.03},{"x":72.5,"a":3.5,"b":2.2,"c":2.7,"d":1.0},{"x":72.6,"a":3.9,"b":2.6,"c":2.3,"d":1.04},{"x":72.7,"a":3.3,"b":2.1,"c":2.5,"d":1.0},{"x":72.8,"a":3.7,"b":2.4,"c":2.2,"d":1.02},{"x":72.9,"a":3.2,"b":2.0,"c":2.6,"d":0.99},
{"x":73.0,"a":3.8,"b":2.5,"c":2.3,"d":1.03},{"x":73.1,"a":3.4,"b":2.2,"c":2.5,"d":1.0},{"x":73.2,"a":4.0,"b":2.6,"c":2.2,"d":1.04},{"x":73.3,"a":3.5,"b":2.1,"c":2.6,"d":1.0},{"x":73.4,"a":3.9,"b":2.4,"c":2.3,"d":1.02},{"x":73.5,"a":3.3,"b":2.0,"c":2.5,"d":0.99},{"x":73.6,"a":3.7,"b":2.5,"c":2.2,"d":1.03},{"x":73.7,"a":3.1,"b":2.2,"c":2.6,"d":1.0},{"x":73.8,"a":3.6,"b":2.6,"c":2.4,"d":1.04},{"x":73.9,"a":4.2,"b":2.3,"c":2.7,"d":1.0},
{"x":74.0,"a":3.5,"b":2.6,"c":2.4,"d":1.02},{"x":74.1,"a":3.9,"b":2.2,"c":2.6,"d":1.0},{"x":74.2,"a":3.4,"b":2.5,"c":2.3,"d":1.04},{"x":74.3,"a":3.8,"b":2.1,"c":2.6,"d":1.0},{"x":74.4,"a":3.2,"b":2.6,"c":2.4,"d":1.03},{"x":74.5,"a":3.7,"b":2.3,"c":2.7,"d":1.0},{"x":74.6,"a":4.1,"b":2.7,"c":2.4,"d":1.05},{"x":74.7,"a":3.5,"b":2.4,"c":2.6,"d":1.02},{"x":74.8,"a":3.9,"b":2.8,"c":2.3,"d":1.06},{"x":74.9,"a":3.3,"b":2.5,"c":2.6,"d":1.03},
{"x":75.0,"a":3.8,"b":2.7,"c":2.4,"d":1.05},{"x":75.1,"a":3.4,"b":2.4,"c":2.6,"d":1.08},{"x":75.2,"a":4.0,"b":2.8,"c":2.3,"d":1.1},{"x":75.3,"a":3.6,"b":2.5,"c":2.7,"d":1.12},{"x":75.4,"a":4.2,"b":2.9,"c":2.5,"d":1.15},{"x":75.5,"a":3.7,"b":2.6,"c":2.7,"d":1.2},{"x":75.6,"a":4.3,"b":2.8,"c":2.5,"d":1.25},{"x":75.7,"a":3.8,"b":2.6,"c":2.6,"d":1.3},{"x":75.8,"a":4.6,"b":2.9,"c":2.4,"d":1.38},{"x":75.9,"a":3.9,"b":2.7,"c":2.6,"d":1.42},
{"x":76.0,"a":4.4,"b":2.8,"c":2.5,"d":1.45},{"x":76.1,"a":4.0,"b":2.7,"c":2.6,"d":1.42},{"x":76.2,"a":4.5,"b":2.8,"c":2.65,"d":1.38},{"x":76.3,"a":3.8,"b":2.6,"c":2.5,"d":1.3},{"x":76.4,"a":4.2,"b":2.5,"c":2.6,"d":1.2},{"x":76.5,"a":3.5,"b":2.3,"c":2.4,"d":1.12},{"x":76.6,"a":3.9,"b":2.5,"c":2.1,"d":1.06},{"x":76.7,"a":3.3,"b":2.2,"c":2.4,"d":1.03},{"x":76.8,"a":3.7,"b":2.4,"c":2.2,"d":1.0},{"x":76.9,"a":3.1,"b":2.1,"c":2.5,"d":1.02},
{"x":77.0,"a":3.6,"b":2.3,"c":2.2,"d":0.99},{"x":77.1,"a":3.2,"b":2.0,"c":2.4,"d":1.03},{"x":77.2,"a":3.8,"b":2.4,"c":2.1,"d":1.0},{"x":77.3,"a":3.4,"b":2.1,"c":2.5,"d":1.02},{"x":77.4,"a":3.9,"b":2.3,"c":2.2,"d":0.99},{"x":77.5,"a":3.3,"b":2.0,"c":2.4,"d":1.03},{"x":77.6,"a":3.7,"b":2.4,"c":2.1,"d":1.0},{"x":77.7,"a":3.1,"b":2.1,"c":2.5,"d":1.02},{"x":77.8,"a":3.6,"b":2.3,"c":2.2,"d":0.99},{"x":77.9,"a":3.3,"b":1.9,"c":2.4,"d":1.03},
{"x":78.0,"a":3.8,"b":2.3,"c":2.1,"d":1.0},{"x":78.1,"a":3.2,"b":2.0,"c":2.5,"d":1.02},{"x":78.2,"a":3.7,"b":2.4,"c":2.2,"d":0.99},{"x":78.3,"a":3.4,"b":2.1,"c":2.4,"d":1.03},{"x":78.4,"a":3.9,"b":2.3,"c":2.1,"d":1.0},{"x":78.5,"a":3.3,"b":1.9,"c":2.5,"d":1.02},{"x":78.6,"a":3.6,"b":2.3,"c":2.2,"d":0.99},{"x":78.7,"a":3.2,"b":2.0,"c":2.4,"d":1.03},{"x":78.8,"a":3.7,"b":2.3,"c":2.7,"d":1.0},{"x":78.9,"a":3.1,"b":2.0,"c":2.2,"d":1.02},
{"x":79.0,"a":3.6,"b":2.4,"c":2.5,"d":0.99},{"x":79.1,"a":3.3,"b":2.1,"c":2.1,"d":1.03},{"x":79.2,"a":3.9,"b":2.3,"c":2.4,"d":1.0},{"x":79.3,"a":3.4,"b":1.9,"c":2.2,"d":1.02},{"x":79.4,"a":3.7,"b":2.2,"c":2.5,"d":0.99},{"x":79.5,"a":3.1,"b":2.0,"c":2.1,"d":1.03},{"x":79.6,"a":3.6,"b":2.3,"c":2.4,"d":1.0},{"x":79.7,"a":3.2,"b":1.8,"c":2.2,"d":1.02},{"x":79.8,"a":3.8,"b":2.2,"c":1.9,"d":0.99},{"x":79.9,"a":3.3,"b":1.9,"c":2.3,"d":1.02},
{"x":80.0,"a":3.5,"b":2.0,"c":2.1,"d":1.0}
]},
"vconcat": [
{
 "width": 784, "height": 261,
 "resolve": {"axis": {"x": "independent", "y": "independent"}},
 "layer": [
  {"mark": {"type": "line", "color": "#808000", "strokeWidth": 1.6, "clip": true},
   "encoding": {
    "x": {"field": "x", "type": "quantitative", "title": null, "scale": {"domain": [20, 80], "nice": false, "zero": false},
          "axis": {"orient": "bottom", "values": [20,30,40,50,60,70,80], "tickSize": -15, "labels": false, "title": null}},
    "y": {"field": "a", "type": "quantitative", "title": null, "scale": {"domain": [0, 13], "nice": false, "zero": false},
          "axis": {"orient": "left", "values": [1,2,3,4,5,6,7,8,9,10,11,12], "tickSize": -4, "labels": false, "title": null}}
   }},
  {"data": {"values": [{"x": 28.6, "y": 10.86, "t": "C (111)"}, {"x": 44.49, "y": 8.5, "t": "C (220)"}, {"x": 52.64, "y": 6.75, "t": "C (311)"}, {"x": 73.8, "y": 6.97, "t": "(a)"}]},
   "mark": {"type": "text", "align": "center", "baseline": "alphabetic"},
   "encoding": {
    "x": {"field": "x", "type": "quantitative", "scale": {"domain": [20, 80], "nice": false, "zero": false},
          "axis": {"orient": "bottom", "values": [25,35,45,55,65,75], "tickSize": -8, "labels": false, "domain": false, "title": null}},
    "y": {"field": "y", "type": "quantitative", "scale": {"domain": [0, 13], "nice": false, "zero": false},
          "axis": {"orient": "right", "values": [1,2,3,4,5,6,7,8,9,10,11,12], "tickSize": -14, "labels": false, "title": null}},
    "text": {"field": "t"}
   }},
  {"data": {"values": [{"x": 78.62, "y": 10.0, "t": "57 % Zn"}]},
   "mark": {"type": "text", "align": "right", "baseline": "alphabetic"},
   "encoding": {
    "x": {"field": "x", "type": "quantitative", "scale": {"domain": [20, 80], "nice": false, "zero": false}, "axis": null},
    "y": {"field": "y", "type": "quantitative", "scale": {"domain": [0, 13], "nice": false, "zero": false}, "axis": null},
    "text": {"field": "t"}
   }}
 ]
},
{
 "width": 784, "height": 261,
 "resolve": {"axis": {"x": "independent", "y": "independent"}},
 "layer": [
  {"mark": {"type": "line", "color": "#FF0080", "strokeWidth": 1.6, "clip": true},
   "encoding": {
    "x": {"field": "x", "type": "quantitative", "title": null, "scale": {"domain": [20, 80], "nice": false, "zero": false},
          "axis": {"orient": "bottom", "values": [20,30,40,50,60,70,80], "tickSize": -15, "labels": false, "title": null}},
    "y": {"field": "b", "type": "quantitative", "title": null, "scale": {"domain": [0, 9], "nice": false, "zero": false},
          "axis": {"orient": "left", "values": [1,2,3,4,5,6,7,8], "tickSize": -4, "labels": false, "title": "Intensity (counts)", "titleY": 277, "titlePadding": 70}}
   }},
  {"data": {"values": [{"x": 79.16, "y": 7.03, "t": "54 % Zn"}]},
   "mark": {"type": "text", "align": "right", "baseline": "alphabetic"},
   "encoding": {
    "x": {"field": "x", "type": "quantitative", "scale": {"domain": [20, 80], "nice": false, "zero": false},
          "axis": {"orient": "bottom", "values": [25,35,45,55,65,75], "tickSize": -8, "labels": false, "domain": false, "title": null}},
    "y": {"field": "y", "type": "quantitative", "scale": {"domain": [0, 9], "nice": false, "zero": false},
          "axis": {"orient": "right", "values": [1,2,3,4,5,6,7,8], "tickSize": -14, "labels": false, "title": null}},
    "text": {"field": "t"}
   }}
 ]
},
{
 "width": 784, "height": 261,
 "resolve": {"axis": {"x": "independent", "y": "independent"}},
 "layer": [
  {"mark": {"type": "line", "color": "#FF0000", "strokeWidth": 1.6, "clip": true},
   "encoding": {
    "x": {"field": "x", "type": "quantitative", "title": null, "scale": {"domain": [20, 80], "nice": false, "zero": false},
          "axis": {"orient": "bottom", "values": [20,30,40,50,60,70,80], "tickSize": -15, "labels": false, "title": null}},
    "y": {"field": "c", "type": "quantitative", "title": null, "scale": {"domain": [0, 9], "nice": false, "zero": false},
          "axis": {"orient": "left", "values": [1,2,3,4,5,6,7,8], "tickSize": -4, "labels": false, "title": null}}
   }},
  {"data": {"values": [{"x": 78.09, "y": 7.0, "t": "53 % Zn"}]},
   "mark": {"type": "text", "align": "right", "baseline": "alphabetic"},
   "encoding": {
    "x": {"field": "x", "type": "quantitative", "scale": {"domain": [20, 80], "nice": false, "zero": false},
          "axis": {"orient": "bottom", "values": [25,35,45,55,65,75], "tickSize": -8, "labels": false, "domain": false, "title": null}},
    "y": {"field": "y", "type": "quantitative", "scale": {"domain": [0, 9], "nice": false, "zero": false},
          "axis": {"orient": "right", "values": [1,2,3,4,5,6,7,8], "tickSize": -14, "labels": false, "title": null}},
    "text": {"field": "t"}
   }}
 ]
},
{
 "width": 784, "height": 261,
 "resolve": {"axis": {"x": "independent", "y": "independent"}},
 "layer": [
  {"mark": {"type": "line", "color": "#000000", "strokeWidth": 1.3, "clip": true},
   "encoding": {
    "x": {"field": "x", "type": "quantitative", "title": null, "scale": {"domain": [20, 80], "nice": false, "zero": false},
          "axis": {"orient": "bottom", "values": [20,30,40,50,60,70,80], "tickSize": -15, "labelPadding": 27, "labelFlush": false, "labelOverlap": false, "title": "2 θ (Degree)", "titlePadding": 32}},
    "y": {"field": "d", "type": "quantitative", "title": null, "scale": {"domain": [0, 9], "nice": false, "zero": false},
          "axis": {"orient": "left", "values": [1,2,3,4,5,6,7,8], "tickSize": -4, "labels": false, "title": null}}
   }},
  {"data": {"values": [{"x": 79.16, "y": 7.14, "t": "As-deposited ZnTe"}, {"x": 78.62, "y": 5.24, "t": "51 % Zn"}]},
   "mark": {"type": "text", "align": "right", "baseline": "alphabetic"},
   "encoding": {
    "x": {"field": "x", "type": "quantitative", "scale": {"domain": [20, 80], "nice": false, "zero": false},
          "axis": {"orient": "bottom", "values": [25,35,45,55,65,75], "tickSize": -8, "labels": false, "domain": false, "title": null}},
    "y": {"field": "y", "type": "quantitative", "scale": {"domain": [0, 9], "nice": false, "zero": false},
          "axis": {"orient": "right", "values": [1,2,3,4,5,6,7,8], "tickSize": -14, "labels": false, "title": null}},
    "text": {"field": "t"}
   }},
  {"data": {"values": [{"x": 28.42, "y": -3.48, "t": "ted Manuscr"}]},
   "mark": {"type": "text", "align": "left", "baseline": "alphabetic", "angle": -52, "font": "Liberation Serif", "fontWeight": "normal", "fontSize": 250, "color": "#b4b4b4", "blend": "multiply"},
   "encoding": {
    "x": {"field": "x", "type": "quantitative", "scale": {"domain": [20, 80], "nice": false, "zero": false}, "axis": null},
    "y": {"field": "y", "type": "quantitative", "scale": {"domain": [0, 9], "nice": false, "zero": false}, "axis": null},
    "text": {"field": "t"}
   }}
 ]
}
]
}
